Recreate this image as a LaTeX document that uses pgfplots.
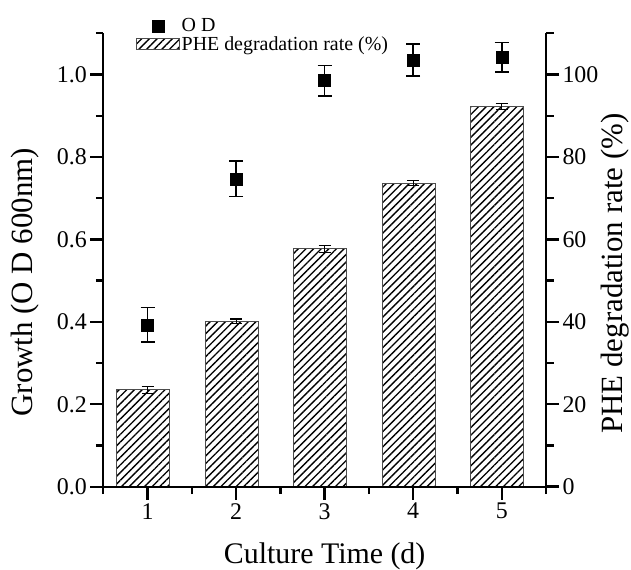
\documentclass[border=0pt]{standalone}
\usepackage{fontspec}
\setmainfont{Liberation Serif}
\usepackage{pgfplots}
\usepackage{pgfplotstable}
\pgfplotsset{compat=1.18}
\usetikzlibrary{patterns.meta}

\pgfplotstableread{
x y e
1 0.393 0.042
2 0.747 0.043
3 0.985 0.037
4 1.035 0.039
5 1.042 0.036
}\oddata

\pgfplotstableread{
x y e
1 23.5 0.9
2 40.1 0.6
3 57.7 0.8
4 73.6 0.6
5 92.3 0.7
}\phedata

\begin{document}
\begin{tikzpicture}
\pgfplotsset{
  common/.style={
    scale only axis, width=442.7bp, height=453.4bp,
    xmin=0.5, xmax=5.5,
    axis line style={line width=2.4bp},
    every tick/.style={black, line width=2.4bp},
    tick align=outside,
    major tick length=13bp, minor tick length=7.5bp,
    tick label style={font=\fontsize{24}{28}\selectfont},
    /pgf/number format/assume math mode=true,
    clip=false,
  }
}
\begin{axis}[common,
  ymin=0, ymax=110,
  axis y line*=right, axis x line=none,
  ytick={0,20,40,60,80,100},
  minor ytick={10,30,50,70,90,110},
  ylabel={PHE degradation rate (\%)},
  every axis y label/.style={at={(axis description cs:1.1717,0.47)}, rotate=90, anchor=base, font=\fontsize{31}{35}\selectfont},
]
\addplot[ybar, bar width=0.6, bar shift=-0.05,
  pattern={Lines[angle=45,distance=5.4bp,line width=1.35bp]},
  draw=black!70, line width=1bp,
  error bars/.cd, y dir=both, y explicit,
  error bar style={line width=1.2bp, black},
  error mark options={rotate=90, mark size=6bp, line width=1.2bp, black}]
  table[x=x, y=y, y error=e]{\phedata};
\end{axis}
\begin{axis}[common,
  ymin=0, ymax=1.1,
  axis y line*=left, axis x line*=bottom,
  xtick={1,2,3,4,5},
  minor xtick={0.5,1.5,2.5,3.5,4.5,5.5},
  ytick={0,0.2,0.4,0.6,0.8,1.0},
  minor ytick={0.1,0.3,0.5,0.7,0.9,1.1},
  yticklabel style={/pgf/number format/.cd, fixed, fixed zerofill, precision=1},
  xlabel={Culture Time (d)},
  every axis x label/.style={at={(axis description cs:0.5,-0.1700)}, anchor=base, font=\fontsize{30}{34}\selectfont},
  ylabel={Growth (O D 600nm)},
  every axis y label/.style={at={(axis description cs:-0.1588,0.451)}, rotate=90, anchor=base, font=\fontsize{31}{35}\selectfont},
  legend style={draw=none, fill=none, inner sep=0pt, row sep=0bp,
    at={(axis description cs:0.0738,1.036)}, anchor=north west,
    font=\fontsize{20}{23}\selectfont,
    nodes={inner sep=1.5bp}},
  legend cell align=left,
]
\addplot[only marks, mark=square*, mark size=6bp, black,
  legend image code/.code={
    \fill[black] (-6bp,-6bp) rectangle (6bp,6bp);
    \path[draw=none, fill=none] (-21.5bp,-5.5bp) rectangle (21.5bp,5.5bp);},
  error bars/.cd, y dir=both, y explicit,
  error bar style={line width=1.6bp, black},
  error mark options={rotate=90, mark size=7bp, line width=1.6bp, black}]
  table[x=x, y=y, y error=e]{\oddata};
\addlegendentry{O D}
\addlegendimage{legend image code/.code={
  \draw[pattern={Lines[angle=45,distance=5.4bp,line width=1.35bp]}, draw=black!70, line width=1bp]
  (-21.5bp,-5.5bp) rectangle (21.5bp,5.5bp);}}
\addlegendentry{PHE degradation rate (\%)}
\end{axis}
\pgfresetboundingbox
\useasboundingbox (-103.3bp,-83.3bp) rectangle (527.7bp,486.7bp);
\end{tikzpicture}
\end{document}
